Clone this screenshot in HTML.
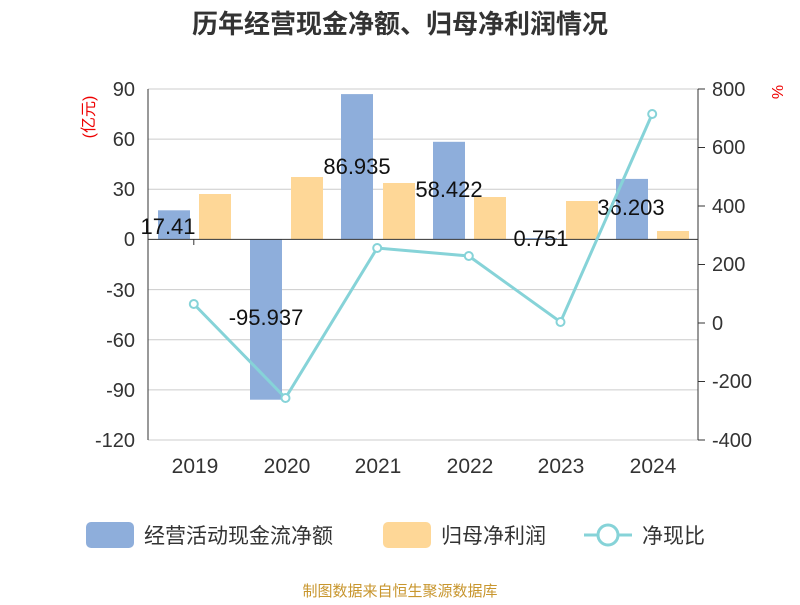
<!DOCTYPE html>
<html><head><meta charset="utf-8"><style>
body{margin:0;background:#fff;}
svg text{font-family:"Liberation Sans","Noto Sans CJK SC",sans-serif;}
</style></head><body>
<svg width="800" height="600" xmlns="http://www.w3.org/2000/svg">
<rect width="800" height="600" fill="#fff"/>
<text x="400" y="33" text-anchor="middle" font-size="26" font-weight="bold" fill="#333">历年经营现金净额、归母净利润情况</text>
<g stroke="#ccc" stroke-width="1">
<line x1="148" x2="698" y1="89" y2="89"/><line x1="148" x2="698" y1="139.1" y2="139.1"/>
<line x1="148" x2="698" y1="189.3" y2="189.3"/><line x1="148" x2="698" y1="289.6" y2="289.6"/>
<line x1="148" x2="698" y1="339.7" y2="339.7"/><line x1="148" x2="698" y1="389.9" y2="389.9"/>
<line x1="148" x2="698" y1="440" y2="440"/>
</g>
<g fill="#8eaedb">
<rect x="158" y="210.3" width="32" height="29.1"/>
<rect x="250" y="239.4" width="32" height="160.3"/>
<rect x="341" y="94.1" width="32" height="145.3"/>
<rect x="433" y="141.8" width="32" height="97.6"/>
<rect x="525" y="238.1" width="32" height="1.3"/>
<rect x="616" y="178.9" width="32" height="60.5"/>
</g>
<g fill="#fed797">
<rect x="199" y="194" width="32" height="45.4"/>
<rect x="291" y="177" width="32" height="62.4"/>
<rect x="383" y="183" width="32" height="56.4"/>
<rect x="474" y="197" width="32" height="42.4"/>
<rect x="566" y="201" width="32" height="38.4"/>
<rect x="657" y="231" width="32" height="8.4"/>
</g>
<line x1="148" x2="698" y1="239.4" y2="239.4" stroke="#333"/>
<line x1="148" x2="148" y1="89" y2="440" stroke="#333"/>
<line x1="698" x2="698" y1="89" y2="440" stroke="#333"/>
<g stroke="#333">
<line x1="698" x2="705" y1="89" y2="89"/><line x1="698" x2="705" y1="147.5" y2="147.5"/>
<line x1="698" x2="705" y1="206" y2="206"/><line x1="698" x2="705" y1="264.5" y2="264.5"/>
<line x1="698" x2="705" y1="323" y2="323"/><line x1="698" x2="705" y1="381.5" y2="381.5"/>
<line x1="698" x2="705" y1="440" y2="440"/>
<line x1="193.8" x2="193.8" y1="239.4" y2="245"/>
</g>
<g font-size="20" fill="#333" text-anchor="end">
<text x="135" y="96">90</text><text x="135" y="146">60</text><text x="135" y="196">30</text>
<text x="135" y="246">0</text><text x="135" y="297">-30</text><text x="135" y="347">-60</text>
<text x="135" y="397">-90</text><text x="135" y="447">-120</text>
</g>
<g font-size="20" fill="#333" text-anchor="start">
<text x="712" y="96">800</text><text x="712" y="154">600</text><text x="712" y="213">400</text>
<text x="712" y="271">200</text><text x="712" y="330">0</text><text x="712" y="388">-200</text>
<text x="712" y="447">-400</text>
</g>
<text transform="translate(94,117) rotate(-90)" font-size="16" fill="#e00" text-anchor="middle">(亿元)</text>
<text transform="translate(772,92) rotate(90)" font-size="16" fill="#e00" text-anchor="middle">%</text>
<g font-size="21" fill="#333" text-anchor="middle">
<text x="195" y="473">2019</text><text x="287" y="473">2020</text><text x="378" y="473">2021</text>
<text x="470" y="473">2022</text><text x="561" y="473">2023</text><text x="653" y="473">2024</text>
</g>
<g font-size="22" fill="#111" text-anchor="middle">
<text x="168" y="234">17.41</text><text x="266" y="325">-95.937</text>
<text x="357" y="174">86.935</text><text x="449" y="197">58.422</text>
<text x="541" y="246">0.751</text><text x="631" y="215">36.203</text>
</g>
<polyline points="193.8,304 285.5,398 377.2,248 468.8,256 560.5,322 652.2,114" fill="none" stroke="#86d3d8" stroke-width="3"/>
<g fill="#fff" stroke="#86d3d8" stroke-width="2">
<circle cx="193.8" cy="304" r="4"/><circle cx="285.5" cy="398" r="4"/><circle cx="377.2" cy="248" r="4"/>
<circle cx="468.8" cy="256" r="4"/><circle cx="560.5" cy="322" r="4"/><circle cx="652.2" cy="114" r="4"/>
</g>
<rect x="86" y="522" width="48" height="26" rx="5" fill="#8eaedb"/>
<text x="144" y="543" font-size="21" fill="#333">经营活动现金流净额</text>
<rect x="383" y="522" width="48" height="26" rx="5" fill="#fed797"/>
<text x="441" y="543" font-size="21" fill="#333">归母净利润</text>
<line x1="584" x2="632" y1="535" y2="535" stroke="#86d3d8" stroke-width="3"/>
<circle cx="608" cy="535" r="10" fill="#fff" stroke="#86d3d8" stroke-width="3"/>
<text x="642" y="543" font-size="21" fill="#333">净现比</text>
<text x="400" y="596" text-anchor="middle" font-size="15" fill="#c8962e">制图数据来自恒生聚源数据库</text>
</svg>
</body></html>
